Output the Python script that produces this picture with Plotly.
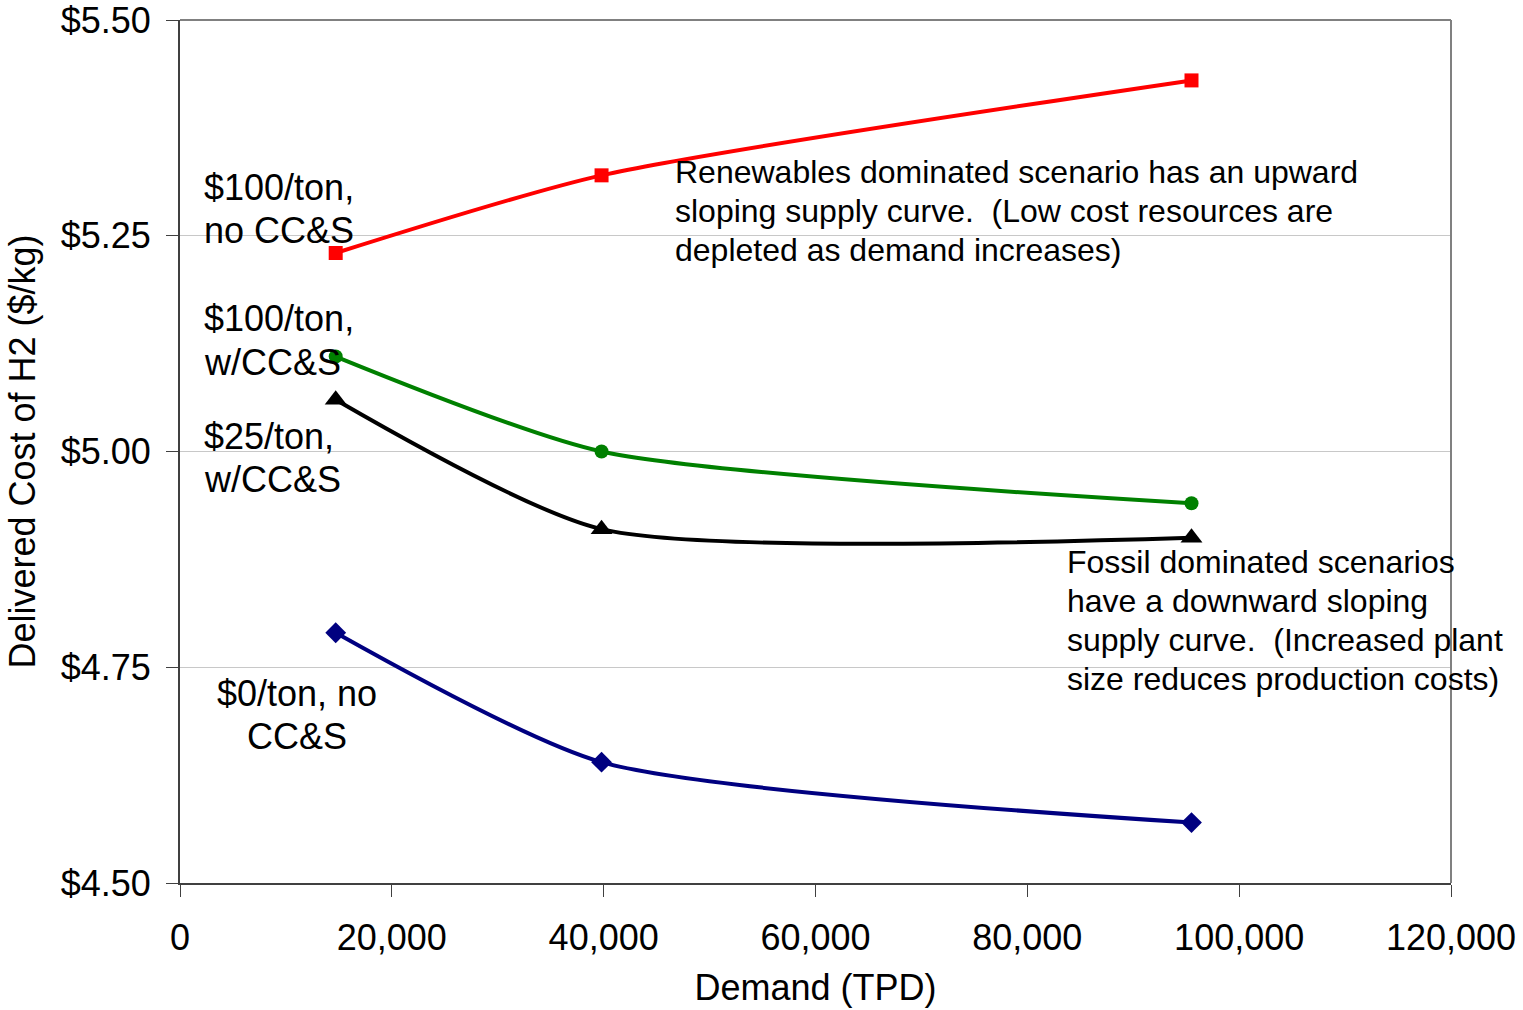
import plotly.graph_objects as go

# Demand levels (tonnes per day) shared by every scenario
demand_tpd = [14700, 39800, 95500]

# Delivered hydrogen cost ($/kg) per carbon-price scenario
cost_100_no_ccs = [5.23, 5.32, 5.43]
cost_100_ccs = [5.11, 5.00, 4.94]
cost_25_ccs = [5.06, 4.91, 4.90]
cost_0_no_ccs = [4.79, 4.64, 4.57]

x_ticks = [0, 20000, 40000, 60000, 80000, 100000, 120000]
y_ticks = [4.50, 4.75, 5.00, 5.25, 5.50]
y_tick_labels = ["$4.50", "$4.75", "$5.00", "$5.25", "$5.50"]

FONT = "Liberation Sans, Arial, sans-serif"
AX_FS = 36     # axis ticks and titles
LBL_FS = 36    # scenario labels
NOTE_FS = 32   # explanatory notes

series = [
    ("$100/ton, no CC&S", cost_100_no_ccs, "#ff0000", "square", 14),
    ("$100/ton, w/CC&S", cost_100_ccs, "#008000", "circle", 14),
    ("$25/ton, w/CC&S", cost_25_ccs, "#000000", "triangle-up", 19),
    ("$0/ton, no CC&S", cost_0_no_ccs, "#000080", "diamond", 16),
]

fig = go.Figure()
for name, vals, color, symbol, size in series:
    fig.add_trace(go.Scatter(
        x=demand_tpd, y=vals, name=name, mode="lines+markers",
        line=dict(color=color, width=4, shape="spline", smoothing=0.65),
        marker=dict(color=color, symbol=symbol, size=size),
        showlegend=False,
    ))

# Text blocks, one annotation per line for tight line spacing
def px_to_x(px):
    return (px - 180) / 1271 * 120000

def py_to_y(py):
    return 5.5 - (py - 20) / 863

notes = [
    # (text, pixel x, center pixel y, anchor, size)
    ("$100/ton,", 203, 187, "left", LBL_FS),
    ("no CC&S", 203, 230, "left", LBL_FS),
    ("$100/ton,", 203, 318, "left", LBL_FS),
    ("w/CC&S", 203, 362, "left", LBL_FS),
    ("$25/ton,", 203, 436, "left", LBL_FS),
    ("w/CC&S", 203, 479, "left", LBL_FS),
    ("$0/ton, no", 297, 693, "center", LBL_FS),
    ("CC&S", 297, 736, "center", LBL_FS),
    ("Renewables dominated scenario has an upward", 674, 172, "left", NOTE_FS),
    ("sloping supply curve.  (Low cost resources are", 674, 211, "left", NOTE_FS),
    ("depleted as demand increases)", 674, 250, "left", NOTE_FS),
    ("Fossil dominated scenarios", 1066, 562, "left", NOTE_FS),
    ("have a downward sloping", 1066, 601, "left", NOTE_FS),
    ("supply curve.  (Increased plant", 1066, 640, "left", NOTE_FS),
    ("size reduces production costs)", 1066, 679, "left", NOTE_FS),
]
for text, px, py, anchor, size in notes:
    fig.add_annotation(
        x=px_to_x(px), y=py_to_y(py), xref="x", yref="y",
        text=text.replace("  ", "&nbsp; "), showarrow=False,
        xanchor=anchor, yanchor="middle", borderpad=0,
        font=dict(family=FONT, size=size, color="#000000"),
    )

# Lighter top and right frame edges
fig.add_shape(type="line", xref="paper", yref="paper", x0=0, x1=1, y0=1, y1=1,
              line=dict(color="#808080", width=2))
fig.add_shape(type="line", xref="paper", yref="paper", x0=1, x1=1, y0=0, y1=1,
              line=dict(color="#808080", width=2))

fig.update_layout(
    width=1523, height=1010,
    margin=dict(l=180, r=72, t=20, b=127),
    paper_bgcolor="white", plot_bgcolor="white",
    font=dict(family=FONT, size=AX_FS, color="#000000"),
)
fig.update_xaxes(
    range=[0, 120000], tickvals=x_ticks, tickformat=",d",
    showgrid=False, zeroline=False, automargin=False,
    showline=True, linecolor="#404040", linewidth=2,
    ticks="outside", ticklen=12, tickcolor="#404040", tickwidth=1,
    ticklabelstandoff=10, ticklabeloverflow="allow",
    tickfont=dict(family=FONT, size=AX_FS),
    title=dict(text="Demand (TPD)", font=dict(family=FONT, size=AX_FS), standoff=18),
)
fig.update_yaxes(
    range=[4.5, 5.5], tickmode="array", tickvals=y_ticks, ticktext=y_tick_labels,
    showgrid=True, gridcolor="#c8c8c8", gridwidth=1, zeroline=False, automargin=False,
    showline=True, linecolor="#404040", linewidth=2,
    ticks="outside", ticklen=12, tickcolor="#404040", tickwidth=1,
    ticklabelstandoff=8, ticklabeloverflow="allow",
    tickfont=dict(family=FONT, size=AX_FS),
    title=dict(text="Delivered Cost of H2 ($/kg)", font=dict(family=FONT, size=AX_FS), standoff=14),
)

fig.write_html("out.html")
